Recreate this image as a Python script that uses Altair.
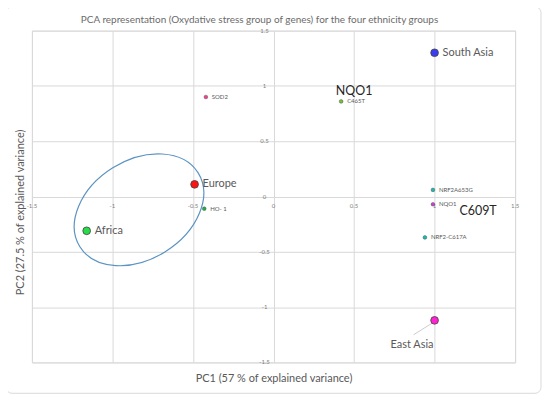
import altair as alt
import pandas as pd

# ---------------- data ----------------
groups = ["South Asia", "Europe", "Africa", "East Asia"]
group_pc1 = [1.00, -0.49, -1.16, 1.00]
group_pc2 = [1.30, 0.11, -0.31, -1.12]
group_colors = ["#3b3bef", "#ff1414", "#27dd4a", "#ff22d2"]

genes = ["SOD2", "C465T", "HO- 1", "NRF2A653G", "NQO1", "NRF2-C617A"]
gene_pc1 = [-0.42, 0.42, -0.43, 0.99, 0.99, 0.94]
gene_pc2 = [0.90, 0.86, -0.11, 0.06, -0.07, -0.37]
gene_colors = ["#f23f8f", "#72c23a", "#22b04c", "#1db8b2", "#cc3fd6", "#1db8b2"]

notes = ["NQO1", "C609T"]
note_pc1 = [0.50, 1.27]
note_pc2 = [0.955, -0.135]

ticks = [-1.5, -1.0, -0.5, 0.0, 0.5, 1.0, 1.5]
tick_labels = ["-1.5", "-1", "-0.5", "0", "0.5", "1", "1.5"]

# Africa/Europe ellipse (centre in data units)
ellipse_pc1 = [-0.835]
ellipse_pc2 = [-0.12]

# East Asia leader line
leader_pc1 = [0.99]
leader_pc2 = [-1.14]
leader_pc1_end = [0.87]
leader_pc2_end = [-1.25]
east_label_pc1 = [0.86]
east_label_pc2 = [-1.345]

FONT = "Lato"
GREY = "#595959"

dom = [-1.5, 1.5]
xscale = alt.Scale(domain=dom, nice=False, zero=False)
yscale = alt.Scale(domain=dom, nice=False, zero=False)

xaxis = alt.Axis(values=ticks, labels=False, ticks=False, domain=False,
                 grid=True, gridColor="#d9d9d9", gridWidth=1,
                 title="PC1 (57 % of explained variance)", titlePadding=10,
                 titleFontSize=11, titleFontWeight="normal", titleColor=GREY,
                 titleFont=FONT)
yaxis = alt.Axis(values=ticks, labels=False, ticks=False, domain=False,
                 grid=True, gridColor="#d9d9d9", gridWidth=1,
                 title="PC2 (27.5 % of explained variance)", titlePadding=6,
                 titleFontSize=11, titleFontWeight="normal", titleColor=GREY,
                 titleFont=FONT, titleY=182)


def X(field):
    return alt.X(field, type="quantitative", scale=xscale, axis=xaxis)


def Y(field):
    return alt.Y(field, type="quantitative", scale=yscale, axis=yaxis)


gdf = pd.DataFrame({"g": groups, "x": group_pc1, "y": group_pc2, "c": group_colors})
gedf = pd.DataFrame({"g": genes, "x": gene_pc1, "y": gene_pc2, "c": gene_colors})
ndf = pd.DataFrame({"t": notes, "x": note_pc1, "y": note_pc2})
xt = pd.DataFrame({"t": tick_labels, "x": ticks, "y": [0.0] * len(ticks)})
yt = pd.DataFrame({"t": tick_labels, "y": ticks, "x": [0.0] * len(ticks)})
edf = pd.DataFrame({"x": ellipse_pc1, "y": ellipse_pc2})
ldf = pd.DataFrame({"x": leader_pc1, "y": leader_pc2, "x2": leader_pc1_end, "y2": leader_pc2_end})
eal = pd.DataFrame({"t": ["East Asia"], "x": east_label_pc1, "y": east_label_pc2})

# outer frame (decorative)
frame = alt.Chart(pd.DataFrame({"a": [0]})).mark_rect(
    fill="transparent", stroke="#d9d9d9", strokeWidth=1, cornerRadius=6
).encode(x=alt.value(-26), x2=alt.value(511), y=alt.value(-24), y2=alt.value(364))

base_grid = alt.Chart(xt).mark_point(opacity=0).encode(x=X("x"), y=Y("y"))

xlab = alt.Chart(xt).mark_text(fontSize=6, color="#7f7f7f", font=FONT, dy=10).encode(
    x=X("x"), y=Y("y"), text="t:N")
ylab = alt.Chart(yt).mark_text(fontSize=6, color="#7f7f7f", font=FONT, dx=-9).encode(
    x=X("x"), y=Y("y"), text="t:N")

ell_path = ("M 1 0 C 1 0.392 0.552 0.71 0 0.71 C -0.552 0.71 -1 0.392 -1 0 "
            "C -1 -0.392 -0.552 -0.71 0 -0.71 C 0.552 -0.71 1 -0.392 1 0 Z")
ellipse = alt.Chart(edf).mark_point(
    shape=ell_path, size=19600, angle=328, filled=False,
    stroke="#5b93c2", strokeWidth=1.2, opacity=1
).encode(x=X("x"), y=Y("y"))

leader = alt.Chart(ldf).mark_rule(color="#bfbfbf", strokeWidth=0.8).encode(
    x=X("x"), y=Y("y"), x2="x2:Q", y2="y2:Q")

gpts = alt.Chart(gdf).mark_point(filled=True, size=60, stroke="#404040",
                                 strokeWidth=0.8, opacity=1).encode(
    x=X("x"), y=Y("y"), fill=alt.Fill("c:N", scale=None))

glab = alt.Chart(gdf[gdf.g != "East Asia"]).mark_text(
    align="left", dx=8, fontSize=11, color=GREY, font=FONT).encode(
    x=X("x"), y=Y("y"), text="g:N")

elab = alt.Chart(eal).mark_text(align="center", fontSize=11, color=GREY, font=FONT).encode(
    x=X("x"), y=Y("y"), text="t:N")

gepts = alt.Chart(gedf).mark_point(filled=True, size=14, stroke="#404040",
                                   strokeWidth=0.4, opacity=1).encode(
    x=X("x"), y=Y("y"), fill=alt.Fill("c:N", scale=None))

gelab = alt.Chart(gedf).mark_text(align="left", dx=6, fontSize=6, color=GREY, font=FONT).encode(
    x=X("x"), y=Y("y"), text="g:N")

nlab = alt.Chart(ndf).mark_text(align="center", fontSize=12.5, color="#262626", font=FONT).encode(
    x=X("x"), y=Y("y"), text="t:N")

chart = alt.layer(
    frame, base_grid, xlab, ylab, ellipse, leader, gpts, glab, elab, gepts, gelab, nlab
).properties(
    width=485, height=333,
    autosize=alt.AutoSizeParams(type="none"),
    padding={"left": 24, "top": 22, "right": 27, "bottom": 32},
    title=alt.TitleParams(
        "PCA representation (Oxydative stress group of genes) for the four ethnicity groups",
        fontSize=10, font=FONT, color="#6b6b6b", fontWeight="normal", offset=6, dx=-14,
        dy=25, frame="group"),
).configure_view(strokeWidth=0).configure(background="white")

chart.save("out.html", embed_options={"renderer": "svg", "actions": False})
